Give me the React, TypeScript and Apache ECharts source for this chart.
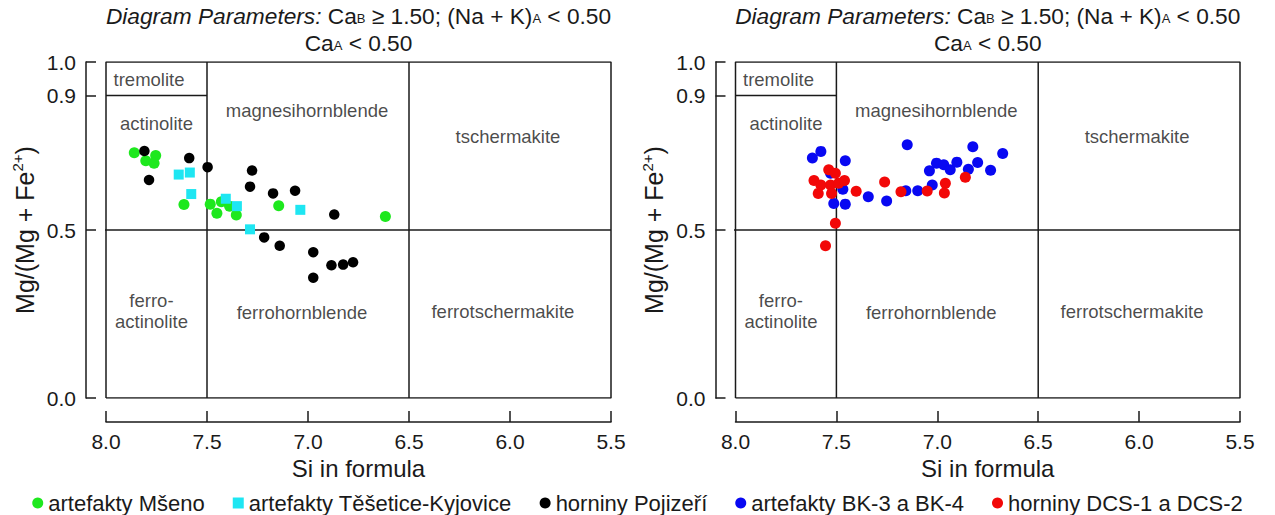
import React, { useEffect, useRef } from 'react';
import * as echarts from 'echarts';

const FONT = '"Liberation Sans", Arial, Helvetica, sans-serif';
const INK = '#1a1a1a';

// ---- left diagram data ----
const siMseno = [7.86, 7.803, 7.754, 7.762, 7.614, 7.484, 7.429, 7.451, 7.388, 7.355, 7.145, 6.617];
const mgMseno = [0.730, 0.706, 0.722, 0.699, 0.576, 0.577, 0.584, 0.550, 0.571, 0.545, 0.572, 0.540];

const siTesetice = [7.640, 7.585, 7.578, 7.407, 7.352, 7.287, 7.038];
const mgTesetice = [0.665, 0.671, 0.607, 0.593, 0.571, 0.502, 0.560];

const siPojizeri = [7.810, 7.787, 7.588, 7.497, 7.277, 7.287, 7.173, 7.064, 6.870, 7.217, 7.140, 6.974, 6.974, 6.884, 6.826, 6.777];
const mgPojizeri = [0.735, 0.649, 0.714, 0.687, 0.677, 0.629, 0.609, 0.617, 0.546, 0.478, 0.453, 0.434, 0.358, 0.395, 0.397, 0.404];

// ---- right diagram data ----
const siBK = [7.619, 7.577, 7.456, 7.529, 7.468, 7.513, 7.456, 7.342, 7.251, 7.149, 7.156, 7.097, 7.025, 7.039, 7.004, 6.968, 6.936, 6.903, 6.846, 6.824, 6.800, 6.736, 6.676];
const mgBK = [0.714, 0.734, 0.706, 0.669, 0.621, 0.579, 0.577, 0.599, 0.586, 0.754, 0.617, 0.617, 0.634, 0.676, 0.699, 0.694, 0.679, 0.702, 0.681, 0.748, 0.701, 0.678, 0.728];

const siDCS = [7.611, 7.577, 7.590, 7.538, 7.505, 7.529, 7.524, 7.489, 7.460, 7.505, 7.554, 7.402, 7.261, 7.180, 7.050, 6.960, 6.965, 6.861];
const mgDCS = [0.647, 0.634, 0.609, 0.679, 0.669, 0.634, 0.609, 0.639, 0.647, 0.520, 0.453, 0.615, 0.643, 0.614, 0.616, 0.639, 0.610, 0.657];

// ---- axes / diagram structure ----
const xTicks = [8.0, 7.5, 7.0, 6.5, 6.0, 5.5];
const yTicks = [0.0, 0.5, 0.9, 1.0];

const frameSi = [8.0, 8.0, 5.5, 5.5, 8.0];
const frameMg = [0.0, 1.0, 1.0, 0.0, 0.0];

const regionNames = ['tremolite', 'actinolite', 'magnesihornblende', 'tschermakite', 'ferro-\nactinolite', 'ferrohornblende', 'ferrotschermakite'];
const regionSi = [7.787, 7.75, 7.005, 6.01, 7.775, 7.03, 6.035];
const regionMg = [0.949, 0.818, 0.857, 0.777, 0.259, 0.253, 0.256];

const legendNames = ['artefakty Mšeno', 'artefakty Těšetice-Kyjovice', 'horniny Pojizeří', 'artefakty BK-3 a BK-4', 'horniny DCS-1 a DCS-2'];
const legendIcons = ['circle', 'rect', 'circle', 'circle', 'circle'];
const colors = ['#1ee81e', '#1ee6f2', '#000000', '#0808f2', '#f20808'];

const zip = (a: number[], b: number[]) => a.map((v, i) => [v, b[i]]);

const GRIDS = [
  { left: 106, width: 505 },
  { left: 735.5, width: 504.5 },
];

function structureSeries(g: number): any[] {
  const line = (data: number[][], clip = true) => ({
    type: 'line',
    xAxisIndex: g,
    yAxisIndex: g,
    data,
    symbol: 'none',
    silent: true,
    clip,
    z: 1,
    lineStyle: { color: INK, width: 1.5 },
  });
  return [
    line(zip(frameSi, frameMg)),
    line([[7.5, 0], [7.5, 1]]),
    line([[6.5, 0], [6.5, 1]]),
    line([[8.1, 0.5], [5.5, 0.5]], false),
    line([[8.0, 0.9], [7.5, 0.9]]),
    {
      type: 'scatter',
      xAxisIndex: g,
      yAxisIndex: g,
      silent: true,
      symbol: 'circle',
      symbolSize: 1,
      z: 2,
      itemStyle: { color: 'transparent' },
      label: {
        show: true,
        position: 'inside',
        formatter: '{b}',
        fontSize: 18.5,
        lineHeight: 21,
        color: INK,
        fontFamily: FONT,
        align: 'center',
      },
      data: regionNames.map((n, i) => ({ name: n, value: [regionSi[i], regionMg[i]] })),
    },
  ];
}

function pointSeries(name: string, g: number, si: number[], mg: number[], symbol: string, size: number, color: string) {
  return {
    type: 'scatter',
    name,
    xAxisIndex: g,
    yAxisIndex: g,
    data: zip(si, mg),
    symbol,
    symbolSize: size,
    itemStyle: { color, opacity: 1 },
    z: 3,
  };
}

export default function App() {
  const ref = useRef<HTMLDivElement>(null);
  useEffect(() => {
    if (!ref.current) return;
    const chart = echarts.init(ref.current, undefined, { renderer: 'svg' });
    const titleText = '{i|Diagram Parameters:} Ca{s|B} ≥ 1.50; (Na + K){s|A} < 0.50\nCa{s|A} < 0.50';
    const titleStyle = {
      fontSize: 22.7,
      fontWeight: 'normal',
      color: INK,
      fontFamily: FONT,
      lineHeight: 27,
      rich: {
        i: { fontStyle: 'italic', fontSize: 22.7, fontFamily: FONT, color: INK, lineHeight: 27 },
        s: { fontSize: 13, fontFamily: FONT, color: INK, padding: [6, 0, 0, 0] },
      },
    };
    const option: any = {
      animation: false,
      backgroundColor: '#ffffff',
      title: GRIDS.map((gr) => ({
        text: titleText,
        left: gr.left + gr.width / 2,
        textAlign: 'center',
        top: 2,
        padding: 0,
        textStyle: titleStyle,
      })),
      grid: GRIDS.map((gr) => ({ left: gr.left, width: gr.width, top: 62, height: 336, containLabel: false })),
      xAxis: GRIDS.map((_, g) => ({
        gridIndex: g,
        type: 'value',
        min: 5.5,
        max: 8.0,
        interval: 0.5,
        inverse: true,
        offset: 24,
        axisLine: { show: true, onZero: false, lineStyle: { color: INK, width: 1.5 } },
        axisTick: { show: true, inside: true, length: 11, customValues: xTicks, lineStyle: { color: INK, width: 1.5 } },
        axisLabel: {
          customValues: xTicks,
          margin: 9,
          fontSize: 21,
          color: INK,
          fontFamily: FONT,
          formatter: (v: number) => v.toFixed(1),
        },
        splitLine: { show: false },
        name: 'Si in formula',
        nameLocation: 'middle',
        nameGap: 34,
        nameTextStyle: { fontSize: 24, color: INK, fontFamily: FONT },
      })),
      yAxis: GRIDS.map((_, g) => ({
        gridIndex: g,
        type: 'value',
        min: 0,
        max: 1,
        offset: 20,
        axisLine: { show: true, onZero: false, lineStyle: { color: INK, width: 1.5 } },
        axisTick: { show: true, inside: true, length: 10, customValues: yTicks, lineStyle: { color: INK, width: 1.5 } },
        axisLabel: {
          customValues: yTicks,
          margin: 10,
          fontSize: 21,
          color: INK,
          fontFamily: FONT,
          formatter: (v: number) => v.toFixed(1),
        },
        splitLine: { show: false },
        name: 'Mg/(Mg + Fe{sup|2+})',
        nameLocation: 'middle',
        nameGap: 47,
        nameRotate: 90,
        nameTextStyle: {
          fontSize: 25,
          color: INK,
          fontFamily: FONT,
          rich: { sup: { fontSize: 15, fontFamily: FONT, color: INK, padding: [0, 0, 14, 0] } },
        },
      })),
      legend: {
        data: legendNames.map((n, i) => ({ name: n, icon: legendIcons[i] })),
        left: 'center',
        top: 487,
        itemWidth: 11,
        itemHeight: 11,
        itemGap: 28,
        selectedMode: false,
        textStyle: { fontSize: 22, color: INK, fontFamily: FONT },
      },
      series: [
        ...structureSeries(0),
        ...structureSeries(1),
        pointSeries(legendNames[0], 0, siMseno, mgMseno, 'circle', 11, colors[0]),
        pointSeries(legendNames[1], 0, siTesetice, mgTesetice, 'rect', 10, colors[1]),
        pointSeries(legendNames[2], 0, siPojizeri, mgPojizeri, 'circle', 10.5, colors[2]),
        pointSeries(legendNames[3], 1, siBK, mgBK, 'circle', 11, colors[3]),
        pointSeries(legendNames[4], 1, siDCS, mgDCS, 'circle', 11, colors[4]),
      ],
    };
    chart.setOption(option);
    return () => chart.dispose();
  }, []);
  return (
    <div
      ref={ref}
      style={{ position: 'fixed', left: 0, top: 0, width: 1275, height: 515, background: '#fff' }}
    />
  );
}
